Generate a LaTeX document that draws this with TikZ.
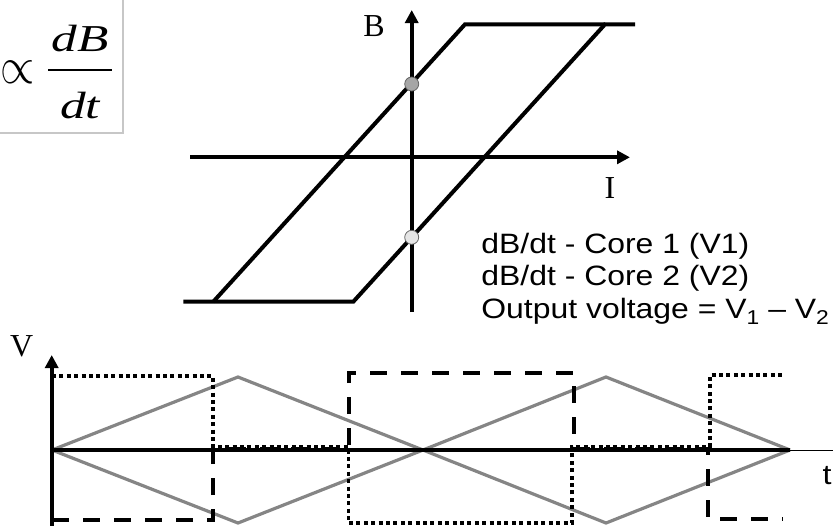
\documentclass[tikz,border=0pt]{standalone}
\usepackage{fontspec}
\setmainfont{Liberation Serif}
\setsansfont{Liberation Sans}
\usetikzlibrary{arrows.meta, positioning}

\newcommand{\lowsub}[1]{\raisebox{-0.45ex}{\fontsize{10}{12}\selectfont #1}}

\begin{document}
\begin{tikzpicture}[
    x=0.5pt, y=-0.5pt,
    axis/.style={line width=1.9pt, -{Triangle[length=6.5pt,width=6.5pt]}},
    loop/.style={line width=2pt, line join=miter},
    ramp/.style={line width=1.6pt, draw=black!48},
    core1/.style={line width=1.7pt, dash pattern=on 2pt off 1.7pt},
    core2/.style={line width=1.9pt, dash pattern=on 8.5pt off 7pt},
    lbl/.style={font=\fontsize{16}{18}\selectfont, inner sep=0pt},
    legend/.style={font=\fontsize{14}{16}\selectfont\sffamily, anchor=base west, inner sep=0pt},
    dot/.style={circle, draw=black!60, line width=0.4pt, minimum size=7pt, inner sep=0pt}
]
\useasboundingbox (0,0) rectangle (833,525);
\clip (0,0) rectangle (833,525);

% equation box
\draw[black!22, line width=0.6pt] (-5,-5) rectangle (123,133);
\node[inner sep=0pt] (prop) at (18,72) {\scalebox{2.2}[2.6]{$\propto$}};
\node[font=\fontsize{19}{21}\selectfont\itshape, inner sep=0pt] (num) at (80,39) {\scalebox{1.35}[1]{dB}};
\node[font=\fontsize{19}{21}\selectfont\itshape, inner sep=0pt] (den) at (80,106) {\scalebox{1.35}[1]{dt}};
\coordinate (barL) at (48,70);
\coordinate (barR) at (112,70);
\draw[line width=1.3pt] (barL) -- (barR);

% B-I loop
\coordinate (Bbot) at (411.7,312);
\coordinate (Btop) at (411.7,10);
\coordinate (Ileft) at (190,157.3);
\coordinate (Iright) at (630,157.3);
\draw[axis] (Bbot) -- (Btop);
\draw[axis] (Ileft) -- (Iright);
\node[lbl] (B) at (374,26) {B};
\node[lbl] (I) at (610,188) {I};

\draw[loop] (183.3,301.7) -- (353.3,301.7) -- (605,24.3) -- (635,24.3);
\draw[loop] (213.3,301.7) -- (465,24.3) -- (605,24.3);

\node[dot, fill=black!35] (d1) at (411.7,84) {};
\node[dot, fill=black!10] (d2) at (411.7,237.3) {};

% legend
\node[legend] (leg1) at (481,253) {\scalebox{1.14}[1]{dB/dt - Core 1 (V1)}};
\node[legend] (leg2) at (481,285.5) {\scalebox{1.14}[1]{dB/dt - Core 2 (V2)}};
\node[legend] (leg3) at (481,318) {\scalebox{1.14}[1]{Output voltage = V\lowsub{1} – V\lowsub{2}}};

% V-t plot
\coordinate (Vbot) at (51.7,530);
\coordinate (Vtop) at (51.7,355);
\coordinate (t0) at (51.7,450);
\coordinate (tend) at (833,450);
\node[lbl] (V) at (21.7,346.7) {V};
\node[lbl, font=\fontsize{14}{16}\selectfont\sffamily] (t) at (827,476) {\scalebox{1.15}[1]{t}};

\draw[ramp] (52,450) -- (238,377) -- (423,450) -- (606,377) -- (790,450);
\draw[ramp] (52,450) -- (238,523) -- (423,450) -- (606,523) -- (790,450);

\draw[line width=0.5pt] (t0) -- (tend);
\draw[line width=2.1pt] (t0) -- (790,450);
\draw[axis] (Vbot) -- (Vtop);

\draw[core1] (52,376) -- (213,376) -- (213,447) -- (348.5,447) -- (348.5,523) -- (572,523)
    -- (572,447) -- (710,447) -- (710,375) -- (783,375);
\draw[core2] (52,520) -- (213,520) -- (213,449) -- (349,449) -- (349,373) -- (574,373)
    -- (574,449) -- (708,449) -- (708,519) -- (783,519);
\end{tikzpicture}
\end{document}
